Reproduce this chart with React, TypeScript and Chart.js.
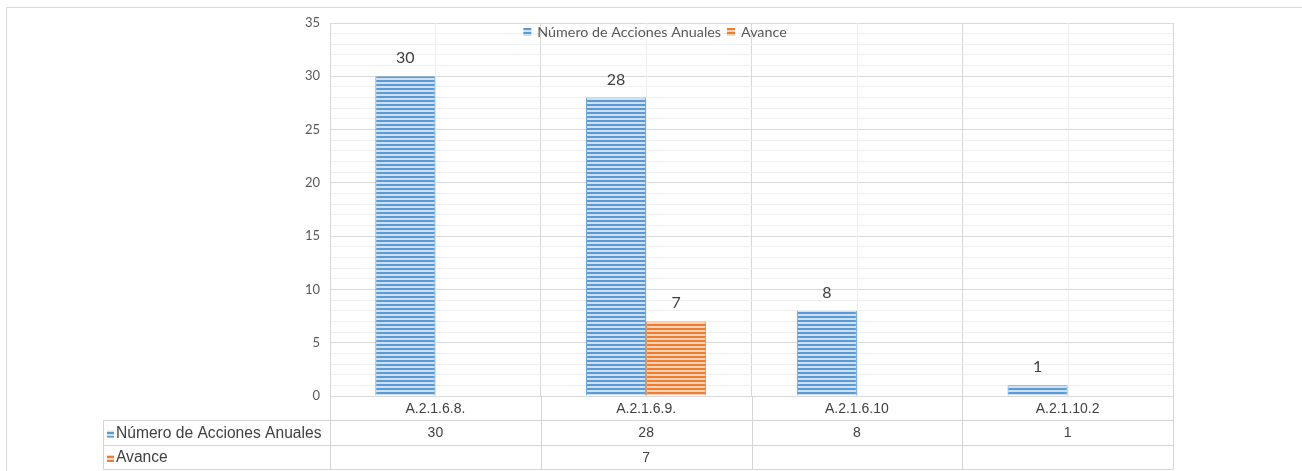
import React, { useEffect, useRef } from 'react';
import { Chart, registerables } from 'chart.js';

Chart.register(...registerables);

// ---- data ----
const categories: string[] = ['A.2.1.6.8.', 'A.2.1.6.9.', 'A.2.1.6.10', 'A.2.1.10.2'];
const seriesNames: string[] = ['Número de Acciones Anuales', 'Avance'];
const accionesAnuales: (number | null)[] = [30, 28, 8, 1];
const avance: (number | null)[] = [null, 7, null, null];
const yMin = 0;
const yMax = 35;
const yMajorStep = 5;
const yMinorStep = 1;

// ---- styles ----
const DARK = ['#5B9BD5', '#ED7D31'];
const LIGHT = ['#CFE0F3', '#F9D3B8'];
const GRID_MAJOR = '#d9d9d9';
const GRID_MINOR = '#efefef';
const CAL = 'Lato, "Open Sans", sans-serif';
const ARIAL = '"Liberation Sans", Arial, sans-serif';

function makeStripe(dark: string, light: string): CanvasPattern | string {
  const c = document.createElement('canvas');
  c.width = 4;
  c.height = 4;
  const g = c.getContext('2d');
  if (!g) return dark;
  g.fillStyle = light;
  g.fillRect(0, 0, 4, 4);
  g.fillStyle = dark;
  g.fillRect(0, 0, 4, 2);
  return g.createPattern(c, 'repeat') || dark;
}

export default function App() {
  const ref = useRef<HTMLCanvasElement | null>(null);

  useEffect(() => {
    const canvas = ref.current;
    if (!canvas) return;
    const patterns = [makeStripe(DARK[0], LIGHT[0]), makeStripe(DARK[1], LIGHT[1])];
    const seriesValues = [accionesAnuales, avance];

    const extras = {
      id: 'excelExtras',
      beforeDatasetsDraw(chart: any) {
        const { ctx, chartArea } = chart;
        const xs = chart.scales.x;
        ctx.save();
        ctx.strokeStyle = GRID_MINOR;
        ctx.lineWidth = 1;
        categories.forEach((_, i) => {
          const px = Math.round(xs.getPixelForValue(i)) + 0.5;
          ctx.beginPath();
          ctx.moveTo(px, chartArea.top);
          ctx.lineTo(px, chartArea.bottom);
          ctx.stroke();
        });
        ctx.restore();
      },
      afterDatasetsDraw(chart: any) {
        const { ctx } = chart;
        ctx.save();
        ctx.font = `16px ${CAL}`;
        ctx.fillStyle = '#404040';
        ctx.textAlign = 'center';
        ctx.textBaseline = 'alphabetic';
        chart.data.datasets.forEach((ds: any, di: number) => {
          const meta = chart.getDatasetMeta(di);
          meta.data.forEach((el: any, i: number) => {
            const v = ds.data[i];
            if (v === null || v === undefined) return;
            ctx.fillText(String(v), el.x, el.y - 13);
          });
        });
        ctx.restore();
      },
      afterDraw(chart: any) {
        const { ctx, chartArea, width } = chart;
        const xs = chart.scales.x;
        ctx.save();
        // outer chart border
        ctx.strokeStyle = GRID_MAJOR;
        ctx.lineWidth = 1;
        ctx.strokeRect(6.5, 7.5, width + 20, 600);

        // legend
        ctx.font = `14.3px ${CAL}`;
        ctx.textBaseline = 'middle';
        ctx.textAlign = 'left';
        const box = 8;
        const gapBox = 6;
        const gapItem = 6;
        const widths = seriesNames.map((s) => ctx.measureText(s).width);
        const total = widths.reduce((a, w) => a + box + gapBox + w, 0) + gapItem * (seriesNames.length - 1);
        let lx = 655 - total / 2;
        const ly = 32;
        seriesNames.forEach((s, i) => {
          ctx.fillStyle = patterns[i] as any;
          ctx.fillRect(lx, ly - 4, box, box);
          ctx.fillStyle = '#595959';
          ctx.fillText(s, lx + box + gapBox, ly);
          lx += box + gapBox + widths[i] + gapItem;
        });

        // data table
        const n = categories.length;
        const half = (xs.getPixelForValue(1) - xs.getPixelForValue(0)) / 2;
        const bounds: number[] = categories.map((_, i) => xs.getPixelForValue(i) - half);
        bounds.push(xs.getPixelForValue(n - 1) + half);
        const rowH = 24.4;
        const top = chartArea.bottom;
        const r1 = top + rowH;
        const r2 = top + rowH * 2;
        const r3 = top + rowH * 3;
        const tableLeft = 103;
        const crisp = (v: number) => Math.round(v) + 0.5;
        ctx.strokeStyle = '#d4d4d4';
        ctx.beginPath();
        bounds.forEach((b) => {
          ctx.moveTo(crisp(b), top);
          ctx.lineTo(crisp(b), crisp(r3));
        });
        ctx.moveTo(crisp(tableLeft), crisp(r1));
        ctx.lineTo(crisp(tableLeft), crisp(r3));
        [r1, r2, r3].forEach((y) => {
          ctx.moveTo(crisp(tableLeft), crisp(y));
          ctx.lineTo(crisp(bounds[n]), crisp(y));
        });
        ctx.stroke();

        ctx.font = `14px ${ARIAL}`;
        ctx.fillStyle = '#404040';
        ctx.textAlign = 'center';
        ctx.textBaseline = 'middle';
        categories.forEach((c, i) => {
          const cx = xs.getPixelForValue(i);
          ctx.fillText(c, cx, top + rowH / 2 + 1);
          seriesValues.forEach((arr, si) => {
            const v = arr[i];
            if (v !== null && v !== undefined) ctx.fillText(String(v), cx, top + rowH * (si + 1.5) + 1);
          });
        });
        ctx.textAlign = 'left';
        ctx.font = `15.6px ${ARIAL}`;
        seriesNames.forEach((s, si) => {
          const cy = top + rowH * (si + 1.5) + 1;
          ctx.fillStyle = patterns[si] as any;
          ctx.fillRect(107, cy - 3, 7, 7);
          ctx.fillStyle = '#404040';
          ctx.fillText(s, 116, cy);
        });
        ctx.restore();
      },
    };

    const chart = new Chart(canvas, {
      type: 'bar',
      data: {
        labels: categories,
        datasets: [
          {
            label: seriesNames[0],
            data: accionesAnuales,
            backgroundColor: patterns[0] as any,
            borderColor: DARK[0],
            borderWidth: { left: 1, right: 1, top: 0, bottom: 0 } as any,
            categoryPercentage: 0.57,
            barPercentage: 1,
          },
          {
            label: seriesNames[1],
            data: avance,
            backgroundColor: patterns[1] as any,
            borderColor: DARK[1],
            borderWidth: { left: 1, right: 1, top: 0, bottom: 0 } as any,
            categoryPercentage: 0.57,
            barPercentage: 1,
          },
        ],
      },
      options: {
        responsive: false,
        animation: false,
        layout: { padding: { left: 0, top: 23, right: 129, bottom: 0 } },
        plugins: {
          legend: { display: false },
          tooltip: { enabled: false },
        },
        scales: {
          x: {
            ticks: { display: false },
            grid: { color: GRID_MAJOR, drawTicks: false },
            border: { color: GRID_MAJOR },
            afterFit: (s: any) => {
              s.height = 75;
            },
          },
          y: {
            min: yMin,
            max: yMax,
            ticks: {
              stepSize: yMinorStep,
              autoSkip: false,
              padding: 10,
              color: '#595959',
              font: { family: CAL, size: 13 },
              callback: (v: any) => (Number(v) % yMajorStep === 0 ? String(v) : ''),
            },
            grid: {
              drawTicks: false,
              color: (c: any) => (c.tick && c.tick.value % yMajorStep === 0 ? GRID_MAJOR : GRID_MINOR),
            },
            border: { color: GRID_MAJOR },
            afterFit: (s: any) => {
              s.width = 330;
            },
          },
        },
      },
      plugins: [extras],
    });
    return () => chart.destroy();
  }, []);

  return (
    <div style={{ position: 'absolute', left: 0, top: 0, width: 1302, height: 471, background: '#fff' }}>
      <canvas ref={ref} width={1302} height={471} style={{ display: 'block' }} />
    </div>
  );
}
